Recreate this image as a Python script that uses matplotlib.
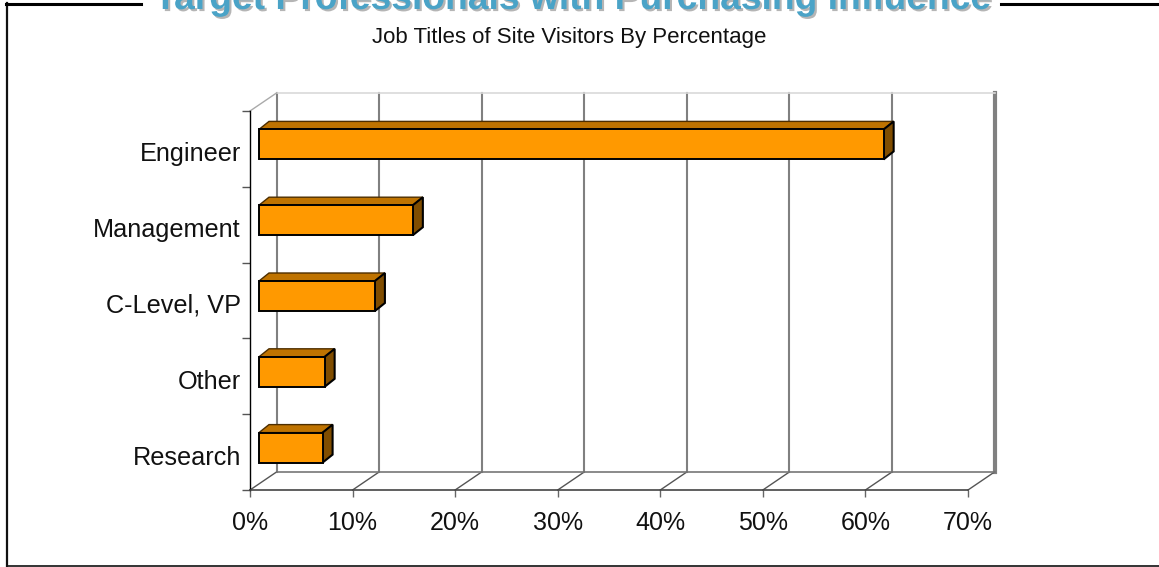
import matplotlib
matplotlib.use('Agg')
import matplotlib.pyplot as plt
import matplotlib.patheffects as pe
from matplotlib.patches import Polygon
from matplotlib.lines import Line2D
from matplotlib.transforms import ScaledTranslation

# Data
categories = ['Engineer', 'Management', 'C-Level, VP', 'Other', 'Research']
values = [60.9, 15.0, 11.3, 6.4, 6.2]
x_ticks = [0, 10, 20, 30, 40, 50, 60, 70]

W, H = 1159, 567
plt.rcParams['font.family'] = ['Liberation Sans', 'DejaVu Sans']

fig = plt.figure(figsize=(W / 100, H / 100), dpi=100)
# front plane of the fake 3D box
left, right, top, bottom = 250, 968, 111, 490
ax = fig.add_axes([left / W, 1 - bottom / H, (right - left) / W, (bottom - top) / H])
ax.set_xlim(0, 70)
ax.set_ylim(5, 0)
ax.patch.set_visible(False)
for s in ax.spines.values():
    s.set_visible(False)

# depth of the box and bars, in data units
px_x = 70 / (right - left)
px_y = 5 / (bottom - top)
box_dx, box_dy = 26.5 * px_x, 18 * px_y
bar_dx, bar_dy = 10 * px_x, 8 * px_y
bar_left = 9 * px_x
bar_h = 30 * px_y
bar_shift = 4.5 * px_y

# walls
for t in x_ticks:
    lw = 3 if t == 70 else 1.5
    ax.plot([t + box_dx] * 2, [-box_dy, 5 - box_dy], color='#808080', lw=lw, clip_on=False, zorder=1)
    ax.plot([t, t + box_dx], [5, 5 - box_dy], color='#555555', lw=1, clip_on=False, zorder=1)
ax.plot([box_dx, 70 + box_dx], [-box_dy, -box_dy], color='#d9d9d9', lw=1.2, clip_on=False, zorder=1)
ax.plot([box_dx, 70 + box_dx], [5 - box_dy, 5 - box_dy], color='#777777', lw=1.2, clip_on=False, zorder=1)
ax.plot([0, box_dx], [0, -box_dy], color='#aaaaaa', lw=1, clip_on=False, zorder=1)

# bars
ypos = [i + 0.5 - bar_shift for i in range(len(categories))]
ax.barh(ypos, values, left=bar_left, height=bar_h, color='#ff9900', edgecolor='black', lw=1.4, zorder=3)
for y, v in zip(ypos, values):
    x1 = bar_left + v
    y0, y1 = y - bar_h / 2, y + bar_h / 2
    ax.add_patch(Polygon([(bar_left, y0), (bar_left + bar_dx, y0 - bar_dy), (x1 + bar_dx, y0 - bar_dy), (x1, y0)],
                         facecolor='#bf7300', edgecolor='#4d2e00', lw=1, zorder=2.5, clip_on=False))
    ax.add_patch(Polygon([(x1, y0), (x1 + bar_dx, y0 - bar_dy), (x1 + bar_dx, y1 - bar_dy), (x1, y1)],
                         facecolor='#804d00', edgecolor='black', lw=1.5, zorder=2.6, clip_on=False))

# axes lines and ticks
ax.spines['left'].set_visible(True)
ax.spines['left'].set_color('black')
ax.spines['left'].set_linewidth(1)
ax.spines['bottom'].set_visible(True)
ax.spines['bottom'].set_color('#444444')
ax.spines['bottom'].set_linewidth(1.2)
ax.set_xticks(x_ticks)
ax.set_xticklabels([f'{t}%' for t in x_ticks], fontsize=18, color='#111111')
ax.set_yticks(range(len(categories) + 1))
ax.set_yticklabels([])
ax.set_yticks([i + 0.5 for i in range(len(categories))], minor=True)
ax.set_yticklabels(categories, minor=True, fontsize=18.2, color='#111111')
ax.tick_params(axis='y', which='minor', length=0, pad=6.5)
ax.tick_params(axis='y', which='major', length=6, width=1, color='#555555')
ax.tick_params(axis='x', length=5, width=1, color='#666666', pad=10)
# labels sit a little below the band centres
shift = ScaledTranslation(0, -3 / 100, fig.dpi_scale_trans)
for lab in ax.get_yticklabels(minor=True):
    lab.set_transform(lab.get_transform() + shift)

# outer frame, broken by the heading
frame = '#111111'
fig.add_artist(Line2D([7 / W, 7 / W], [1 - 3 / H, 0.5 / H], color=frame, lw=1.6))
fig.add_artist(Line2D([7 / W, 1], [1 / H, 1 / H], color=frame, lw=1.2))
fig.add_artist(Line2D([6 / W, 141 / W], [1 - 3.5 / H, 1 - 3.5 / H], color='black', lw=2.2))
fig.add_artist(Line2D([1001 / W, 1], [1 - 3.5 / H, 1 - 3.5 / H], color='black', lw=2.2))

fig.text(573 / W, 1 - 9 / H, 'Target Professionals with Purchasing Influence', ha='center', va='baseline',
         fontsize=26.8, fontweight='bold', color='#4aa3c7',
         path_effects=[pe.withSimplePatchShadow(offset=(1.5, -1.5), shadow_rgbFace='#b5b5b5', alpha=1)])

fig.text(569.5 / W, 1 - 43 / H, 'Job Titles of Site Visitors By Percentage', ha='center', va='baseline',
         fontsize=16, color='#111111')

fig.savefig('out.png', dpi=100)
